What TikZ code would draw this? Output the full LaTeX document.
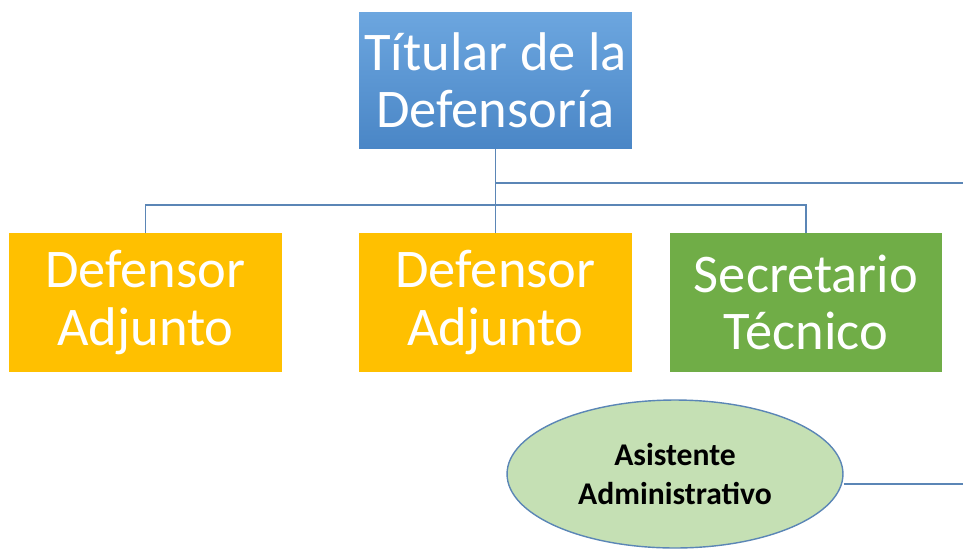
\documentclass[tikz,border=0pt]{standalone}
\usepackage{fontspec}
\setmainfont{Carlito}
\usetikzlibrary{positioning,calc,shapes.geometric}
\definecolor{linkblue}{HTML}{5B86B6}
\definecolor{boxorange}{HTML}{FFC000}
\definecolor{boxgreen}{HTML}{70AD47}
\definecolor{topblue}{HTML}{6CA6DF}
\definecolor{botblue}{HTML}{4A86C6}
\definecolor{ovalgreen}{HTML}{C5E0B4}
\tikzset{
    post/.style={rectangle,text=white,align=center,inner sep=0pt,
        minimum width=5.46cm,minimum height=2.78cm,
        font=\fontsize{31}{32.5}\selectfont},
    link/.style={draw=linkblue,line width=1.1pt}
}

\begin{document}
\begin{tikzpicture}[x=0.02cm,y=-0.02cm]

        \useasboundingbox (0,0) rectangle (963,552);

        % nodes
        \node [post,top color=topblue,bottom color=botblue,minimum height=2.74cm] (tit) at (495.5,80.5) {Títular de la\\Defensoría};
        \node [post,fill=boxorange] (adj1) at (145.5,302.5) {Defensor\\Adjunto};
        \node [post,fill=boxorange] (adj2) at (495.5,302.5) {Defensor\\Adjunto};
        \node [post,fill=boxgreen] (sec) at (806,302.5) {Secretario\\Técnico};
        \node [ellipse,draw=linkblue,line width=0.8pt,fill=ovalgreen,align=center,inner sep=0pt,
               minimum width=6.72cm,minimum height=2.96cm,
               font=\fontsize{18}{22.2}\selectfont\bfseries] (asis) at (675,474) {Asistente\\Administrativo};

        \coordinate (bar) at (0,205);
        \coordinate (outR) at (963,183);
        \coordinate (outE) at (963,484);

        % lines
        \draw [link] (adj1.north) |- (bar -| sec.north) -- (sec.north);
        \draw [link] (tit.south) -- (adj2.north);
        \draw [link] (tit.south |- outR) -- (outR);
        \draw [link] (asis.east |- outE) -- (outE);

    \end{tikzpicture}
\end{document}
